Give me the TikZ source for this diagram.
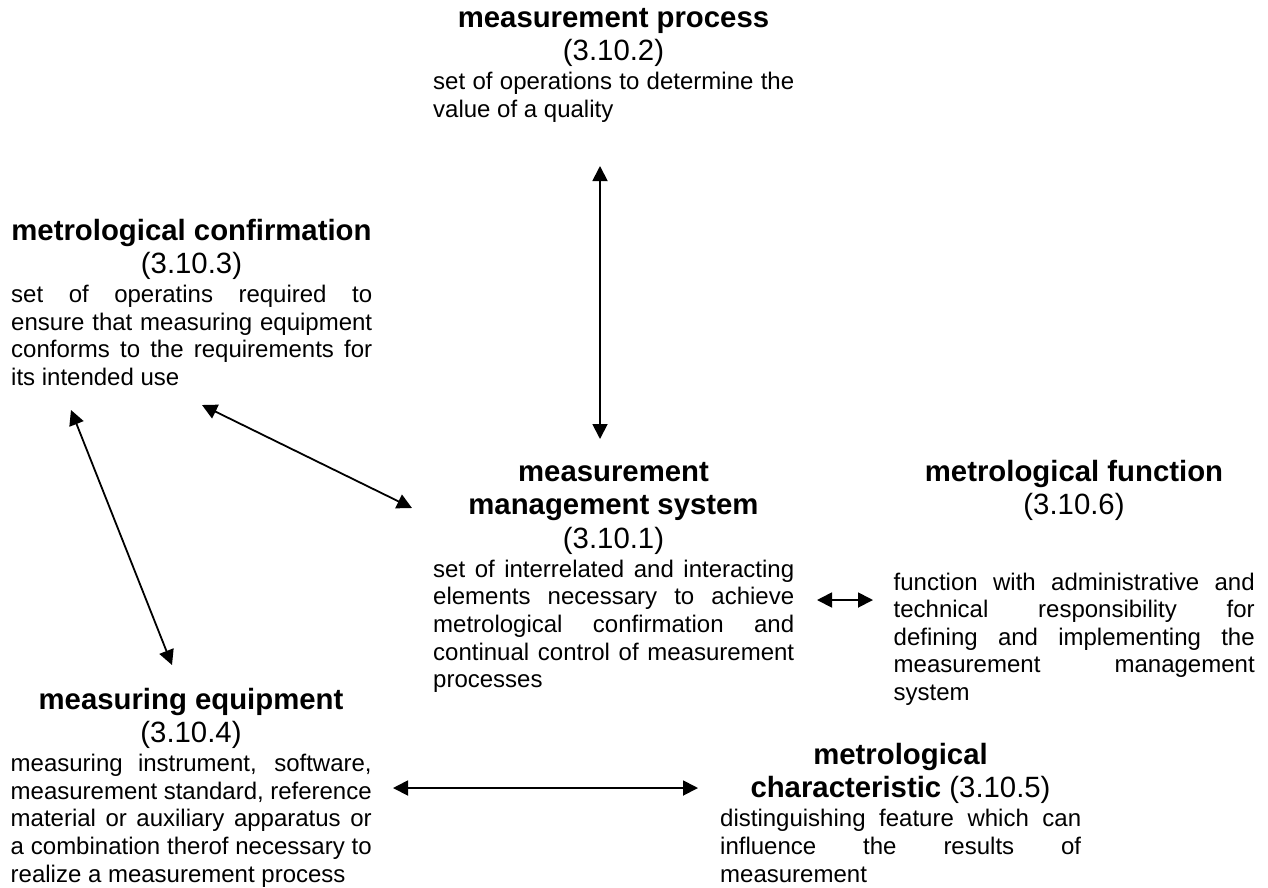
\documentclass[tikz,border=0pt]{standalone}
\usepackage{fontspec}
\setmainfont{Liberation Sans}
\usetikzlibrary{arrows.meta}
\tikzset{
  bodytxt/.style={inner sep=0pt, anchor=base west, font=\fontsize{24}{27.6}\selectfont},
  ttl/.style={inner sep=0pt, anchor=base, font=\fontsize{29.33}{33.7}\selectfont\bfseries},
  numtxt/.style={inner sep=0pt, anchor=base, font=\fontsize{29.33}{33.7}\selectfont},
  arr/.style={line width=1.8pt, {Triangle[length=15pt,width=15pt]}-{Triangle[length=15pt,width=15pt]}},
}
\newcommand{\jl}[1]{\makebox[361pt][s]{#1}}
\begin{document}
\begin{tikzpicture}[x=1pt,y=-1pt]
\useasboundingbox (0,0) rectangle (1268,887);
% measurement process
\node[ttl] (mpT) at (613.5,27) {measurement process};
\node[numtxt] (mpN) at (613.5,60.7) {(3.10.2)};
\node[bodytxt] (mp1) at (433,89.6) {\jl{set of operations to determine the}};
\node[bodytxt] (mp2) at (433,117.2) {value of a quality};
% metrological confirmation
\node[ttl] (mcT) at (191.5,240) {metrological confirmation};
\node[numtxt] (mcN) at (191.5,273.7) {(3.10.3)};
\node[bodytxt] (mc1) at (11,302.6) {\jl{set of operatins required to}};
\node[bodytxt] (mc2) at (11,330.2) {\jl{ensure that measuring equipment}};
\node[bodytxt] (mc3) at (11,357.8) {\jl{conforms to the requirements for}};
\node[bodytxt] (mc4) at (11,385.4) {its intended use};
% measurement management system
\node[ttl] (msT1) at (613.5,481) {measurement};
\node[ttl] (msT2) at (613.5,514.7) {management system};
\node[numtxt] (msN) at (613.5,548.4) {(3.10.1)};
\node[bodytxt] (ms1) at (433,577.3) {\jl{set of interrelated and interacting}};
\node[bodytxt] (ms2) at (433,604.9) {\jl{elements necessary to achieve}};
\node[bodytxt] (ms3) at (433,632.5) {\jl{metrological confirmation and}};
\node[bodytxt] (ms4) at (433,660.1) {\jl{continual control of measurement}};
\node[bodytxt] (ms5) at (433,687.7) {processes};
% metrological function
\node[ttl] (mfT) at (1074,481) {metrological function};
\node[numtxt] (mfN) at (1074,514.7) {(3.10.6)};
\node[bodytxt] (mf1) at (893.5,590) {\jl{function with administrative and}};
\node[bodytxt] (mf2) at (893.5,617.6) {\jl{technical responsibility for}};
\node[bodytxt] (mf3) at (893.5,645.2) {\jl{defining and implementing the}};
\node[bodytxt] (mf4) at (893.5,672.8) {\jl{measurement management}};
\node[bodytxt] (mf5) at (893.5,700.4) {system};
% measuring equipment
\node[ttl] (meT) at (191,709) {measuring equipment};
\node[numtxt] (meN) at (191,742.7) {(3.10.4)};
\node[bodytxt] (me1) at (10.5,771.6) {\jl{measuring instrument, software,}};
\node[bodytxt] (me2) at (10.5,799.2) {\jl{measurement standard, reference}};
\node[bodytxt] (me3) at (10.5,826.8) {\jl{material or auxiliary apparatus or}};
\node[bodytxt] (me4) at (10.5,854.4) {\jl{a combination therof necessary to}};
\node[bodytxt] (me5) at (10.5,882) {realize a measurement process};
% metrological characteristic
\node[ttl] (chT) at (900.5,764.2) {metrological};
\node[numtxt] (chN) at (900.5,797.9) {\textbf{characteristic} (3.10.5)};
\node[bodytxt] (ch1) at (720,826.8) {\jl{distinguishing feature which can}};
\node[bodytxt] (ch2) at (720,854.4) {\jl{influence the results of}};
\node[bodytxt] (ch3) at (720,882) {measurement};
% arrow end points
\coordinate (aMPb) at (600,166);
\coordinate (aMSt) at (600,439);
\coordinate (aMCr) at (202,405);
\coordinate (aMSl) at (412,508);
\coordinate (aMCb) at (71,410);
\coordinate (aMEt) at (172,665);
\coordinate (aMSr) at (817,600);
\coordinate (aMFl) at (873,600);
\coordinate (aMEr) at (393,788);
\coordinate (aCHl) at (698,788);
\draw[arr] (aMPb) -- (aMSt);
\draw[arr] (aMCr) -- (aMSl);
\draw[arr] (aMCb) -- (aMEt);
\draw[arr] (aMSr) -- (aMFl);
\draw[arr] (aMEr) -- (aCHl);
\end{tikzpicture}
\end{document}
